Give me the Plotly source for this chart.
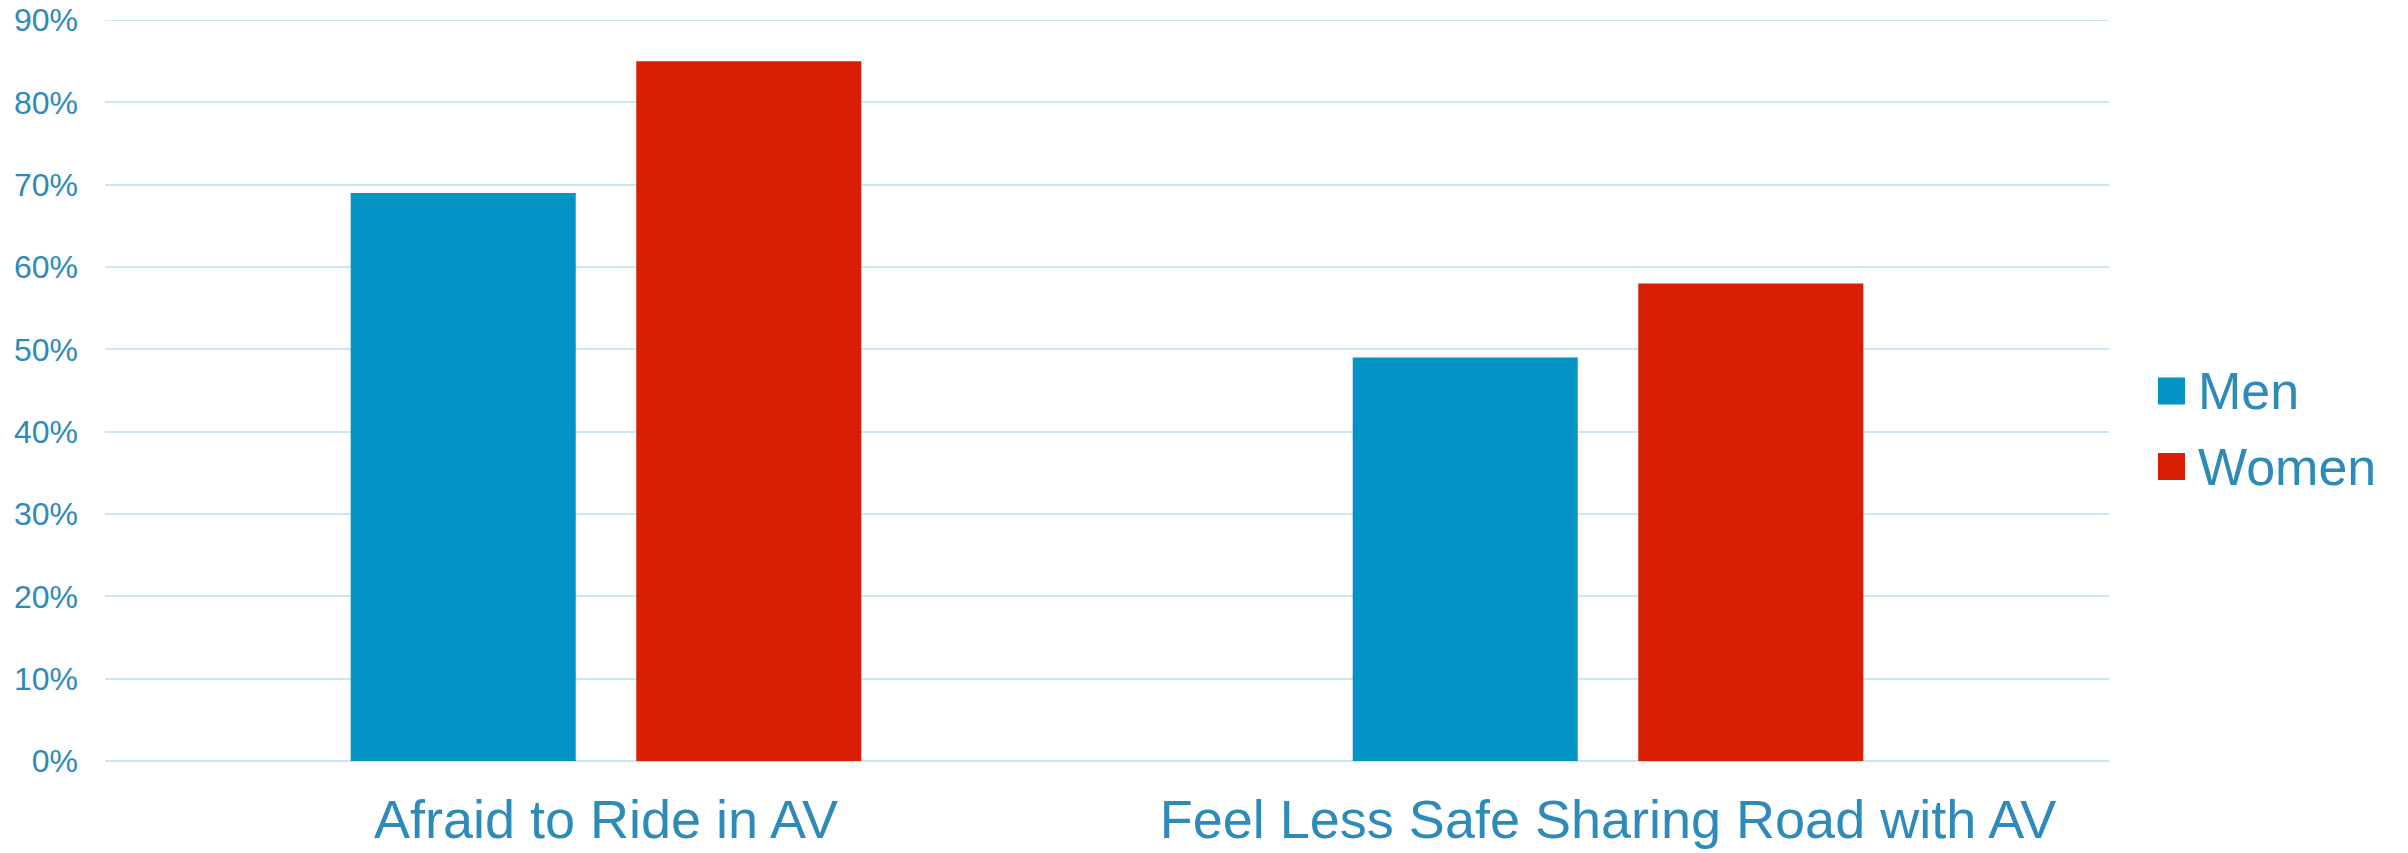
import plotly.graph_objects as go

categories = ["Afraid to Ride in AV", "Feel Less Safe Sharing Road with AV"]
men = [0.69, 0.49]
women = [0.85, 0.58]
series_names = ["Men", "Women"]
colors = ["#0393C7", "#D81E05"]
y_ticks = [0, 0.1, 0.2, 0.3, 0.4, 0.5, 0.6, 0.7, 0.8, 0.9]
y_max = 0.9

TEXT = "#2E8AB8"
GRID = "#CCE6F2"
FONT = "Liberation Sans, Arial, sans-serif"

W, H = 2408, 853
ml, mr, mt, mb = 105, 299, 20, 92
pw, ph = W - ml - mr, H - mt - mb


def px_x(p):
    return (p - ml) / pw


def px_y(p):
    return (H - mb - p) / ph


fig = go.Figure()
for name, vals, col in zip(series_names, [men, women], colors):
    fig.add_trace(go.Bar(x=categories, y=vals, name=name,
                         marker=dict(color=col, line=dict(width=0)), showlegend=False,
                         hoverinfo="skip"))

# top gridline (plotly drops the grid line lying on the plot edge)
fig.add_shape(type="line", xref="paper", yref="y", x0=0, x1=1, y0=y_max, y1=y_max,
              line=dict(color=GRID, width=2), layer="below")

# custom legend (large square swatches)
legend_rows = [391, 466.5]
for name, col, cy in zip(series_names, colors, legend_rows):
    fig.add_shape(type="rect", xref="paper", yref="paper",
                  x0=px_x(2158), x1=px_x(2185), y0=px_y(cy + 13.5), y1=px_y(cy - 13.5),
                  fillcolor=col, line=dict(width=0))
    fig.add_annotation(xref="paper", yref="paper", x=px_x(2196), y=px_y(cy),
                       xanchor="left", yanchor="middle", text=name, showarrow=False,
                       font=dict(size=52, color=TEXT, family=FONT))

fig.update_layout(
    width=W, height=H,
    margin=dict(l=ml, r=mr, t=mt, b=mb, pad=0, autoexpand=False),
    paper_bgcolor="white", plot_bgcolor="white",
    barmode="group", bargap=0.43, bargroupgap=0.212,
    font=dict(family=FONT, color=TEXT),
    showlegend=False,
    xaxis=dict(showgrid=False, showline=False, ticks="", automargin=False,
               tickfont=dict(size=54, color=TEXT, family=FONT), ticklabelstandoff=22),
    yaxis=dict(range=[0, y_max], tickvals=y_ticks, tickformat=".0%", automargin=False,
               showgrid=True, gridcolor=GRID, gridwidth=2,
               zeroline=True, zerolinecolor=GRID, zerolinewidth=2,
               showline=False, ticks="",
               tickfont=dict(size=32, color=TEXT, family=FONT), ticklabelstandoff=26),
)

fig.write_html("out.html", config={"displayModeBar": False},
               post_script="document.body.style.margin='0';document.body.style.padding='0';")
